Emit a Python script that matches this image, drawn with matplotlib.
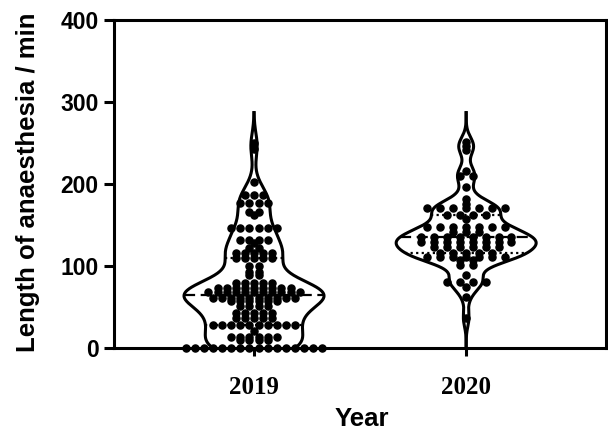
import numpy as np
import matplotlib.pyplot as plt

# length of anaesthesia (min)
years = ["2019", "2020"]

len_2019 = [250, 243, 202, 187, 187, 187, 177, 177, 177, 177, 166, 166, 162,
            146, 146, 146, 146, 146, 146, 132, 132, 132, 132, 128, 122, 122,
            116, 116, 116, 116, 116, 110, 110, 110, 110, 110,
            100, 100, 93, 93, 89, 89,
            79, 79, 79, 79, 79, 73, 73, 73, 73, 73, 73, 73, 73, 73,
            68, 68, 68, 68, 68, 68, 68, 68, 68, 68, 68,
            61, 61, 61, 61, 61, 61, 61, 61, 61, 61,
            57, 57, 57, 57, 57, 57, 51, 51, 51, 51,
            43, 43, 43, 43, 43, 37, 37, 37, 37, 37,
            28, 28, 28, 28, 28, 28, 28, 28, 28, 28, 21,
            14, 14, 14, 14, 14, 14, 10, 10, 10, 10,
            0, 0, 0, 0, 0, 0, 0, 0, 0, 0, 0, 0, 0, 0, 0, 0]

len_2020 = [251, 246, 241, 216, 210, 210, 196, 182, 176,
            171, 171, 171, 171, 171, 171, 171, 162, 162, 162, 162, 157,
            147, 147, 147, 147, 147, 147, 147, 142, 142, 142,
            135, 135, 135, 135, 135, 135, 135, 135,
            129, 129, 129, 129, 129, 129, 129, 129,
            123, 123, 123, 123, 123, 123, 116, 116, 116, 116, 116,
            111, 111, 111, 111, 111, 111, 111, 107, 107, 101, 101,
            89, 81, 81, 81, 81, 75, 62, 36]

data = [np.array(len_2019, float), np.array(len_2020, float)]
dot_step = [0.043, 0.061]
bandwidth = [15.0, 10.0]

plt.rcParams["font.family"] = ["Liberation Sans", "DejaVu Sans"]
fig = plt.figure(figsize=(6.08, 4.33), dpi=100)
ax = fig.add_axes([0.1875, 0.1963, 0.8095, 0.7575])

half_width = 0.33
top = 287
grid = np.linspace(0, top, 600)

for i, vals in enumerate(data):
    bw = bandwidth[i]
    dens = np.exp(-0.5 * ((grid[:, None] - vals[None, :]) / bw) ** 2).sum(axis=1)
    w = dens / dens.max() * half_width
    ax.fill_betweenx(grid, i - w, i + w, color="white", zorder=2)
    ax.plot(i - w, grid, color="black", lw=2.2, zorder=3)
    ax.plot(i + w, grid, color="black", lw=2.2, zorder=3)

    # scatter points, spread sideways within each value
    xs, ys = [], []
    for v in np.unique(vals):
        n = int((vals == v).sum())
        offs = (np.arange(n) - (n - 1) / 2) * dot_step[i]
        xs.extend(i + offs)
        ys.extend([v] * n)
    ax.scatter(xs, ys, s=26, color="black", zorder=4, clip_on=False)

    q1, med, q3 = np.percentile(vals, [25, 50, 75])
    for q, ls in [(med, (0, (5, 2.5))), (q1, (0, (1, 1.5))), (q3, (0, (1, 1.5)))]:
        wq = np.interp(q, grid, w)
        ax.plot([i - wq, i + wq], [q, q], color="black", lw=1.6, ls=ls, zorder=5)

ax.set_xlim(-0.66, 1.66)
ax.set_ylim(0, 400)
ax.set_yticks([0, 100, 200, 300, 400])
ax.set_xticks([0, 1])
ax.set_xticklabels(years, family=["Liberation Serif"], fontweight="bold", fontsize=18)
for lbl in ax.get_yticklabels():
    lbl.set_fontweight("bold")
    lbl.set_fontsize(16.5)

for sp in ax.spines.values():
    sp.set_linewidth(2.2)
ax.tick_params(axis="y", length=7, width=2.2, pad=4)
ax.tick_params(axis="x", length=6, width=2.2, pad=14)

ax.set_ylabel("Length of anaesthesia / min", fontsize=18.5, fontweight="bold")
ax.set_xlabel("Year", fontsize=18.5, fontweight="bold")
ax.yaxis.set_label_coords(-0.15, 0.505)
ax.xaxis.set_label_coords(0.504, -0.18)

fig.savefig("out.png", dpi=100)
